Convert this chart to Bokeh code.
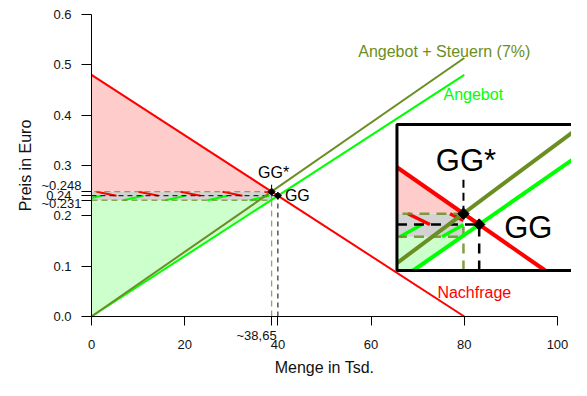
import math
from bokeh.plotting import figure
from bokeh.models import Range1d, FixedTicker
from bokeh.embed import file_html
from bokeh.resources import INLINE
from bokeh.core.properties import value

# ---------------- data ----------------
demand_q = [0, 80]
demand_p = [0.48, 0.0]
supply_q = [0, 80]
supply_p = [0.0, 0.48]
supply_tax_q = [0, 80]
supply_tax_p = [0.0, 0.5136]
eq_q, eq_p = 40.0, 0.24             # GG
eq_tax_q, eq_tax_p = 38.65, 0.248   # GG*
seller_p = 0.231                    # price received by sellers
x_ticks = [0, 20, 40, 60, 80, 100]
x_tick_labels = ["0", "20", "40", "60", "80", "100"]
y_ticks = [0.0, 0.1, 0.2, 0.3, 0.4, 0.5, 0.6]
y_tick_labels = ["0.0", "0.1", "0.2", "0.3", "0.4", "0.5", "0.6"]
lbl_eq_tax_p = "~0.248"
lbl_eq_p = "0.24"
lbl_seller_p = "~0.231"
lbl_eq_tax_q = "~38,65"
inset_xlim = (33.5, 47.5)
inset_ylim = (0.21, 0.31)

# ---------------- style / layout ----------------
W, H = 571, 380
X0PX = 91            # canvas px of x = 0
Y0PX = 316           # canvas px of y = 0
PXX = 466 / 100.0    # px per x unit
PXY = 302 / 0.6      # px per y unit
FONT = "Liberation Sans"
RED = "#FF0000"
LIME = "#00FF00"
OLIVE = "#6B8E23"
PINK = "#FFCCCC"
LGREEN = "#CCFFCC"
GRAY = "#D3D3D3"
TXT = "#111111"

def dx(px):
    return px / PXX

def dy(px):
    return px / PXY

# inset box placement (main data coords)
BX0, BX1 = 65.55, 103.34
BY0, BY1 = 0.0914, 0.3815
ext_x = 0.04 * (inset_xlim[1] - inset_xlim[0])
ext_y = 0.04 * (inset_ylim[1] - inset_ylim[0])
IX0, IX1 = inset_xlim[0] - ext_x, inset_xlim[1] + ext_x
IY0, IY1 = inset_ylim[0] - ext_y, inset_ylim[1] + ext_y
ISX = (BX1 - BX0) / (IX1 - IX0)
ISY = (BY1 - BY0) / (IY1 - IY0)
IPXX = ISX * PXX   # inset px per x unit

def T(xs, ys):
    return ([BX0 + (x - IX0) * ISX for x in xs], [BY0 + (y - IY0) * ISY for y in ys])

def clip_seg(x0, y0, x1, y1, xmin, xmax, ymin, ymax):
    ddx, ddy = x1 - x0, y1 - y0
    u0, u1 = 0.0, 1.0
    for pv, qv in ((-ddx, x0 - xmin), (ddx, xmax - x0), (-ddy, y0 - ymin), (ddy, ymax - y0)):
        if pv == 0:
            if qv < 0:
                return None
        else:
            t = qv / pv
            if pv < 0:
                u0 = max(u0, t)
            else:
                u1 = min(u1, t)
    if u0 > u1:
        return None
    return (x0 + u0 * ddx, y0 + u0 * ddy, x0 + u1 * ddx, y0 + u1 * ddy)

def clip_poly(pts, xmin, xmax, ymin, ymax):
    def inside(pt, e):
        return [pt[0] >= xmin, pt[0] <= xmax, pt[1] >= ymin, pt[1] <= ymax][e]
    def inter(a, b, e):
        if e < 2:
            xe = xmin if e == 0 else xmax
            t = (xe - a[0]) / (b[0] - a[0])
        else:
            ye = ymin if e == 2 else ymax
            t = (ye - a[1]) / (b[1] - a[1])
        return (a[0] + t * (b[0] - a[0]), a[1] + t * (b[1] - a[1]))
    out = list(pts)
    for e in range(4):
        inp = out
        out = []
        if not inp:
            break
        s = inp[-1]
        for pnt in inp:
            if inside(pnt, e):
                if not inside(s, e):
                    out.append(inter(s, pnt, e))
                out.append(pnt)
            elif inside(s, e):
                out.append(inter(s, pnt, e))
            s = pnt
    return out

def hatch(xa, xb, ylo, yhi, ppu, start_px, period_px, width_px, descending):
    segs = []
    k = -3
    while True:
        left = xa + (start_px + k * period_px) / ppu
        right = left + width_px / ppu
        if left > xb:
            break
        if descending:
            s = (left, yhi, right, ylo)
        else:
            s = (left, ylo, right, yhi)
        c = clip_seg(*s, xa, xb, ylo, yhi)
        if c:
            segs.append(c)
        k += 1
    return segs

# ---------------- figure ----------------
p = figure(width=W, height=H,
           x_range=Range1d(-dx(X0PX), dx(W - X0PX)),
           y_range=Range1d(-dy(H - Y0PX), dy(Y0PX)),
           output_backend="svg", toolbar_location=None,
           min_border=0, min_border_left=0, min_border_right=0,
           min_border_top=0, min_border_bottom=0)
p.outline_line_color = None
p.xgrid.grid_line_color = None
p.ygrid.grid_line_color = None
p.background_fill_color = "white"
p.border_fill_color = "white"

for ax in (p.xaxis[0], p.yaxis[0]):
    ax.fixed_location = 0
    ax.axis_line_color = "black"
    ax.major_tick_line_color = "black"
    ax.minor_tick_line_color = None
    ax.major_tick_in = 0
    ax.major_label_text_font = FONT
    ax.major_label_text_font_size = "13px"
    ax.major_label_text_color = TXT

p.xaxis.bounds = (0, 100)
p.xaxis.ticker = FixedTicker(ticks=x_ticks + [eq_tax_q])
xo = {t: l for t, l in zip(x_ticks, x_tick_labels)}
xo[eq_tax_q] = ""
p.xaxis.major_label_overrides = xo
p.xaxis.major_tick_out = 9
p.xaxis.major_label_standoff = 14

p.yaxis.bounds = (0, 0.6)
p.yaxis.ticker = FixedTicker(ticks=y_ticks + [seller_p, eq_p, eq_tax_p])
yo = {t: l for t, l in zip(y_ticks, y_tick_labels)}
yo[seller_p] = ""
yo[eq_p] = lbl_eq_p
yo[eq_tax_p] = ""
p.yaxis.major_label_overrides = yo
p.yaxis.major_tick_out = 10
p.yaxis.major_label_standoff = 10

def txt(x, y, t, color, size, align="center", angle=0.0):
    p.text(x=[x], y=[y], text=[t], text_font=value(FONT), text_font_size=value(size),
           text_color=color, text_align=align, text_baseline="middle", angle=angle)

# ---------------- main areas ----------------
cs = [(0, demand_p[0]), (eq_tax_q, eq_tax_p), (0, eq_tax_p)]
ps = [(0, 0), (eq_tax_q, seller_p), (0, seller_p)]
p.patch([a for a, b in cs], [b for a, b in cs], fill_color=PINK, line_color=None)
p.patch([a for a, b in ps], [b for a, b in ps], fill_color=LGREEN, line_color=None)
p.quad(left=[0], right=[eq_tax_q], bottom=[seller_p], top=[eq_tax_p], fill_color=GRAY, line_color=None)

hr = hatch(0, eq_tax_q, eq_p, eq_tax_p, PXX, 5, 42, 20, True)
hg = hatch(0, eq_tax_q, seller_p, eq_p, PXX, -10, 42, 20, False)
p.multi_line([[s[0], s[2]] for s in hr], [[s[1], s[3]] for s in hr], line_color=RED, line_width=2)
p.multi_line([[s[0], s[2]] for s in hg], [[s[1], s[3]] for s in hg], line_color=LIME, line_width=2)

# dashed helper lines
p.multi_line([[0, eq_tax_q, eq_tax_q, 0], [eq_tax_q, eq_tax_q]],
             [[seller_p, seller_p, eq_tax_p, eq_tax_p], [0, seller_p]],
             line_color=OLIVE, line_alpha=0.75, line_width=1.3, line_dash="6 4")
p.multi_line([[0, eq_q], [eq_q, eq_q]], [[eq_p, eq_p], [0, eq_p]],
             line_color="black", line_width=1, line_dash="5 4")

# curves
p.line(demand_q, demand_p, line_color=RED, line_width=2)
p.line(supply_q, supply_p, line_color=LIME, line_width=2)
p.line(supply_tax_q, supply_tax_p, line_color=OLIVE, line_width=2)

# leader + points
p.line([eq_tax_q, eq_tax_q], [eq_tax_p, eq_tax_p + dy(7)], line_color="black", line_width=1)
p.scatter([eq_tax_q, eq_q], [eq_tax_p, eq_p], marker="square", angle=math.pi / 4, size=5,
          color="black")

txt(eq_tax_q + dx(2), eq_tax_p + dy(19), "GG*", "black", "16px")
txt(eq_q + dx(7), eq_p, "GG", "black", "16px", "left")
txt(supply_tax_q[1] - dx(20), supply_tax_p[1] + dy(6), "Angebot + Steuern (7%)", OLIVE, "16px")
txt(supply_q[1] + dx(9), supply_p[1] - dy(20), "Angebot", LIME, "16px")
txt(demand_q[1] + dx(10), demand_p[1] + dy(24), "Nachfrage", RED, "16px")

# ---------------- inset ----------------
p.quad(left=[BX0], right=[BX1], bottom=[BY0], top=[BY1], fill_color="white", line_color=None)

for poly, col in ((cs, PINK), (ps, LGREEN),
                  ([(0, seller_p), (eq_tax_q, seller_p), (eq_tax_q, eq_tax_p), (0, eq_tax_p)], GRAY)):
    c = clip_poly(poly, IX0, IX1, IY0, IY1)
    if c:
        xs, ys = T([a for a, b in c], [b for a, b in c])
        p.patch(xs, ys, fill_color=col, line_color=None)

ihr = hatch(IX0, eq_tax_q, eq_p, eq_tax_p, IPXX, 11, 42, 22, True)
ihg = hatch(IX0, eq_tax_q, seller_p, eq_p, IPXX, 3, 42, 22, False)
for segs, col in ((ihr, RED), (ihg, LIME)):
    xs_l, ys_l = [], []
    for s in segs:
        a, b = T([s[0], s[2]], [s[1], s[3]])
        xs_l.append(a)
        ys_l.append(b)
    p.multi_line(xs_l, ys_l, line_color=col, line_width=3.5)

def inset_lines(segs, **kw):
    xs_l, ys_l = [], []
    for s in segs:
        c = clip_seg(*s, IX0, IX1, IY0, IY1)
        if c:
            a, b = T([c[0], c[2]], [c[1], c[3]])
            xs_l.append(a)
            ys_l.append(b)
    if xs_l:
        p.multi_line(xs_l, ys_l, **kw)

inset_lines([(0, seller_p, eq_tax_q, seller_p), (eq_tax_q, seller_p, eq_tax_q, eq_tax_p),
             (eq_tax_q, eq_tax_p, 0, eq_tax_p), (eq_tax_q, 0, eq_tax_q, seller_p)],
            line_color=OLIVE, line_alpha=0.85, line_width=2.5, line_dash="10 7")
inset_lines([(0, eq_p, eq_q, eq_p), (eq_q, 0, eq_q, eq_p)],
            line_color="black", line_width=2.5, line_dash="10 7")
inset_lines([(demand_q[0], demand_p[0], demand_q[1], demand_p[1])], line_color=RED, line_width=4)
inset_lines([(supply_q[0], supply_p[0], supply_q[1], supply_p[1])], line_color=LIME, line_width=4)
inset_lines([(supply_tax_q[0], supply_tax_p[0], supply_tax_q[1], supply_tax_p[1])], line_color=OLIVE, line_width=4)

gx, gy = T([eq_tax_q, eq_q], [eq_tax_p, eq_p])
p.line([gx[0], gx[0]], [gy[0], gy[0] + dy(34)], line_color="black", line_width=2, line_dash="8 5")
p.scatter(gx, gy, marker="square", angle=math.pi / 4, size=8, color="black")
txt(gx[0] + dx(2.5), gy[0] + dy(53), "GG*", "black", "31px")
txt(gx[1] + dx(25), gy[1] - dy(3), "GG", "black", "31px", "left")

p.quad(left=[BX0], right=[BX1], bottom=[BY0], top=[BY1], fill_color=None,
       line_color="black", line_width=3)

# ---------------- texts outside the plot region ----------------
txt(-dx(10), eq_tax_p + dy(6), lbl_eq_tax_p, TXT, "13px", "right")
txt(-dx(10), seller_p - dy(3), lbl_seller_p, TXT, "13px", "right")
txt(eq_tax_q + dx(5), -dy(19), lbl_eq_tax_q, TXT, "13px", "right")
txt(50, -dy(51), "Menge in Tsd.", TXT, "16px")
txt(-dx(66), 0.3, "Preis in Euro", TXT, "16px", "center", math.pi / 2)

open("out.html", "w").write(file_html(p, INLINE))
